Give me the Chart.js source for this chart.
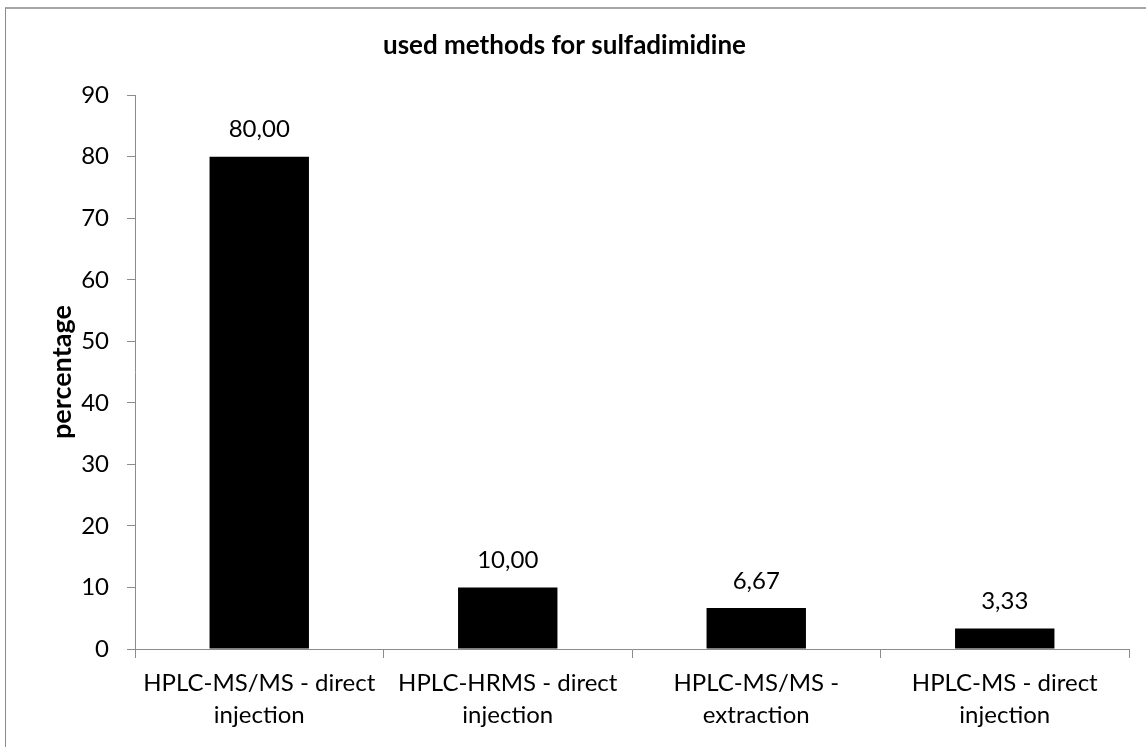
<!DOCTYPE html>
<html>
<head>
<meta charset="utf-8">
<script src="https://cdn.jsdelivr.net/npm/chart.js@4"></script>
<style>
    html, body { margin: 0; padding: 0; background: #fff; overflow: hidden; }
    #wrap { position: relative; width: 1146px; height: 747px; }
    #frame {
        position: absolute; left: 5px; top: 7px; width: 1200px; height: 800px;
        border-left: 1px solid #8c8c8c; border-top: 2px solid #a6a6a6;
    }
    canvas { position: absolute; left: 0; top: 0; }
</style>
</head>
<body>
<div id="wrap">
    <div id="frame"></div>
    <canvas id="methodsChart" width="1146" height="747"></canvas>
</div>
<script>
const categories = [
    ['HPLC-MS/MS - direct', 'injection'],
    ['HPLC-HRMS - direct', 'injection'],
    ['HPLC-MS/MS -', 'extraction'],
    ['HPLC-MS - direct', 'injection']
];
const percentages = [80.00, 10.00, 6.67, 3.33];
const yTicks = [0, 10, 20, 30, 40, 50, 60, 70, 80, 90];

const chartTitle = 'used methods for sulfadimidine';
const yTitle = 'percentage';

// value labels above each bar, decimal comma like the original
const valueLabels = {
    id: 'valueLabels',
    afterDatasetsDraw(chart) {
        const ctx = chart.ctx;
        const meta = chart.getDatasetMeta(0);
        ctx.save();
        ctx.font = '24px Lato';
        ctx.fillStyle = '#000';
        ctx.textAlign = 'center';
        ctx.textBaseline = 'middle';
        meta.data.forEach((bar, i) => {
            const txt = percentages[i].toFixed(2).replace('.', ',');
            ctx.fillText(txt, bar.x, bar.y - 27);
        });
        ctx.restore();
    }
};

const canvas = document.getElementById('methodsChart');
const ctx = canvas.getContext('2d');

new Chart(ctx, {
    type: 'bar',
    data: {
        labels: categories,
        datasets: [{
            data: percentages,
            backgroundColor: '#000',
            borderWidth: 0,
            barPercentage: 0.4,
            categoryPercentage: 1.0
        }]
    },
    options: {
        responsive: false,
        animation: false,
        layout: { padding: { left: 0, right: 17, top: 0, bottom: 0 } },
        plugins: {
            legend: { display: false },
            tooltip: { enabled: false },
            title: {
                display: true,
                text: chartTitle,
                color: '#000',
                font: { family: 'Lato', size: 26, weight: 'bold', lineHeight: 1.2 },
                padding: { top: 30, bottom: 34 }
            }
        },
        scales: {
            x: {
                grid: {
                    offset: true,
                    drawOnChartArea: false,
                    drawTicks: true,
                    tickLength: 9,
                    color: '#8c8c8c'
                },
                border: { color: '#8c8c8c', width: 1 },
                ticks: {
                    color: '#000',
                    font: { family: 'Lato', size: 24, lineHeight: 1.3 },
                    padding: 10,
                    maxRotation: 0,
                    autoSkip: false
                },
                afterFit(scale) { scale.height = 98; }
            },
            y: {
                min: 0,
                max: 90,
                afterBuildTicks(scale) { scale.ticks = yTicks.map(v => ({ value: v })); },
                grid: {
                    drawOnChartArea: false,
                    drawTicks: true,
                    tickLength: 8,
                    color: '#8c8c8c'
                },
                border: { color: '#8c8c8c', width: 1 },
                ticks: {
                    color: '#000',
                    font: { family: 'Lato', size: 24 },
                    padding: 18
                },
                title: {
                    display: true,
                    text: yTitle,
                    color: '#000',
                    font: { family: 'Lato', size: 27, weight: 'bold', lineHeight: 1.2 },
                    padding: { top: 46, bottom: 0 }
                },
                afterFit(scale) { scale.width = 135; }
            }
        }
    },
    plugins: [valueLabels]
});
</script>
</body>
</html>
